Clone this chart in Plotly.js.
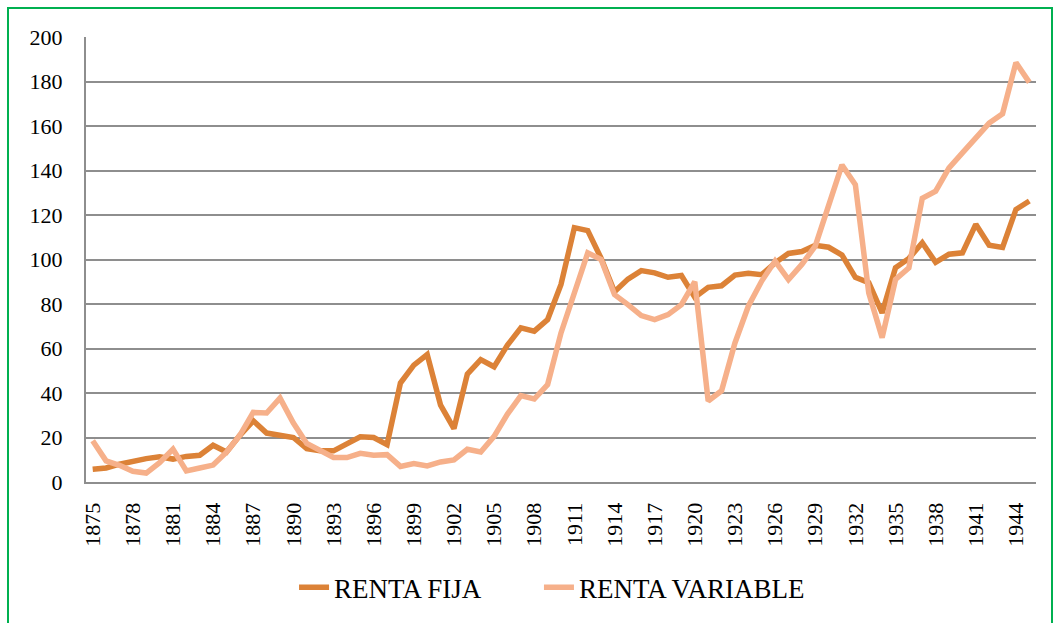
<!DOCTYPE html>
<html>
<head>
<meta charset="utf-8">
<script src="https://cdn.plot.ly/plotly-3.0.1.min.js"></script>
<style>
  html, body { margin: 0; padding: 0; background: #ffffff; }
  #chart { width: 1059px; height: 623px; }
</style>
</head>
<body>
<div id="chart"></div>
<script>
const years = [1875,1876,1877,1878,1879,1880,1881,1882,1883,1884,
  1885,1886,1887,1888,1889,1890,1891,1892,1893,1894,
  1895,1896,1897,1898,1899,1900,1901,1902,1903,1904,
  1905,1906,1907,1908,1909,1910,1911,1912,1913,1914,
  1915,1916,1917,1918,1919,1920,1921,1922,1923,1924,
  1925,1926,1927,1928,1929,1930,1931,1932,1933,1934,
  1935,1936,1937,1938,1939,1940,1941,1942,1943,1944,1945];

const rentaFija = [5.7,6.3,8,9.5,10.5,11.3,10.3,11.5,12,16.5,
  13.5,21,27.5,22,20.8,20,15,14,14,17.3,
  20.3,20,16.8,44.5,52.5,57.3,34.5,24,48.5,55,
  51.8,61.5,69.3,67.8,73,88.8,114.3,113,100.5,85.5,
  91.2,95,94,92,92.8,83,87.5,88.2,93,93.8,
  93.2,98.5,102.7,103.6,106.4,105.5,102,92,89.6,76,
  96.3,100.5,107.5,98.7,102.4,103,115.8,106.4,105.4,122.5,126.3];

const rentaVariable = [18.5,9.5,7.5,4.8,4,8.7,14.8,5,6.3,7.6,
  13.4,21,31.3,31,37.7,26.5,17.3,14,11,11,
  12.9,12,12.3,7,8.3,7.2,9,9.9,14.7,13.5,
  20.5,30.5,38.8,37.3,43.8,67,85.7,103,100,84.2,
  79.7,74.8,73,75.2,79.7,90,36.4,41,62.5,79,
  90.3,99.3,91,97.8,106,124,142.5,133.6,85,64.9,
  91,96.3,127.5,130.7,141.2,147.9,154.6,161.3,165.5,188.5,179.6];

const seriesNames = ['RENTA FIJA', 'RENTA VARIABLE'];
const tickYears = [1875,1878,1881,1884,1887,1890,1893,1896,1899,1902,1905,1908,
  1911,1914,1917,1920,1923,1926,1929,1932,1935,1938,1941,1944];
const yTicks = [0,20,40,60,80,100,120,140,160,180,200];

const traces = [
  { x: years, y: rentaFija, name: seriesNames[0], type: 'scatter', mode: 'lines',
    legend: 'legend',
    line: { color: '#DC8237', width: 5.5 } },
  { x: years, y: rentaVariable, name: seriesNames[1], type: 'scatter', mode: 'lines',
    legend: 'legend2',
    line: { color: '#F6B08A', width: 5.5 } }
];

const font = 'Liberation Serif';

const legendBase = {
  orientation: 'h',
  xanchor: 'left',
  y: -0.235, yanchor: 'middle',
  font: { family: font, size: 27, color: '#000000' },
  bgcolor: 'rgba(0,0,0,0)'
};

const layout = {
  width: 1059, height: 623,
  paper_bgcolor: '#ffffff', plot_bgcolor: '#ffffff',
  margin: { l: 86, r: 23, t: 37, b: 140 },
  showlegend: true,
  font: { family: font, color: '#000000', size: 22 },
  xaxis: {
    range: [1874.5, 1945.5],
    tickmode: 'array',
    tickvals: tickYears,
    ticktext: tickYears.map(String),
    tickangle: -90,
    tickfont: { family: font, size: 22, color: '#000000' },
    ticks: '',
    ticklabelstandoff: 10,
    showgrid: false,
    zeroline: false,
    showline: true, linecolor: '#8e8e8e', linewidth: 2,
    fixedrange: true
  },
  yaxis: {
    range: [0, 200],
    tickmode: 'array',
    tickvals: yTicks,
    ticktext: yTicks.map(String),
    tickfont: { family: font, size: 22, color: '#000000' },
    ticks: '',
    ticklabelstandoff: 17,
    showgrid: true, gridcolor: '#8e8e8e', gridwidth: 2,
    zeroline: false,
    showline: true, linecolor: '#8e8e8e', linewidth: 2,
    fixedrange: true
  },
  legend: Object.assign({}, legendBase, { x: 0.219 }),
  legend2: Object.assign({}, legendBase, { x: 0.4768 }),
  shapes: [
    { type: 'rect', xref: 'paper', yref: 'paper',
      x0: (8 - 86) / 950, x1: (1052 - 86) / 950,
      y0: (483 - 660) / 446, y1: (483 - 8) / 446,
      line: { color: '#00B050', width: 2 }, fillcolor: 'rgba(0,0,0,0)', layer: 'below' }
  ]
};

Plotly.newPlot('chart', traces, layout, { displayModeBar: false, staticPlot: true });
</script>
</body>
</html>
